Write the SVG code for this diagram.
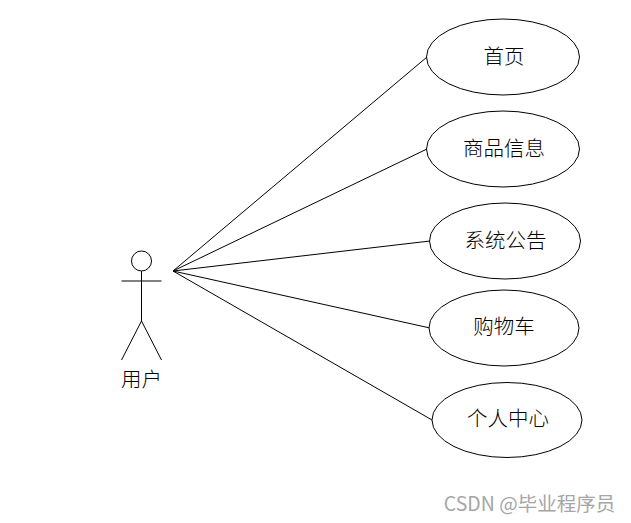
<svg xmlns="http://www.w3.org/2000/svg" width="631" height="523" viewBox="0 0 631 523">
<style>
.n{fill:#fff;stroke:#000;stroke-width:1}
.l{fill:none;stroke:#000;stroke-width:1}
text{font-family:"Noto Sans CJK SC","Liberation Sans",sans-serif;font-size:20.500px;font-weight:300;fill:#000;text-anchor:middle}
</style>
<rect width="631" height="523" fill="#fff"/>
<g id="connectors">
<path class="l" d="M173 271L427 57M173 271L427 149M173 271L430 241M173 271L430 328M173 271L432 420"/>
</g>
<g id="actor">
<circle class="n" cx="141.500" cy="261" r="10"/>
<path class="l" d="M141.500 271V321M121.500 281H161.500M141.500 321L121.500 360M141.500 321L161.500 360"/>
<text x="141.500" y="387">用户</text>
</g>
<g id="n1"><ellipse class="n" cx="503" cy="57" rx="76.500" ry="38"/><text x="504" y="64">首页</text></g>
<g id="n2"><ellipse class="n" cx="503" cy="149" rx="76.500" ry="38"/><text x="504" y="156">商品信息</text></g>
<g id="n3"><ellipse class="n" cx="505" cy="241" rx="75.500" ry="38"/><text x="505.500" y="248">系统公告</text></g>
<g id="n4"><ellipse class="n" cx="504" cy="328" rx="75" ry="38"/><text x="504" y="334">购物车</text></g>
<g id="n5"><ellipse class="n" cx="507" cy="420" rx="75" ry="37.500"/><text x="508" y="426">个人中心</text></g>
<text x="529.500" y="511" style="font-size:19.500px;font-weight:400;fill:#a6a6a6">CSDN @毕业程序员</text>
</svg>
